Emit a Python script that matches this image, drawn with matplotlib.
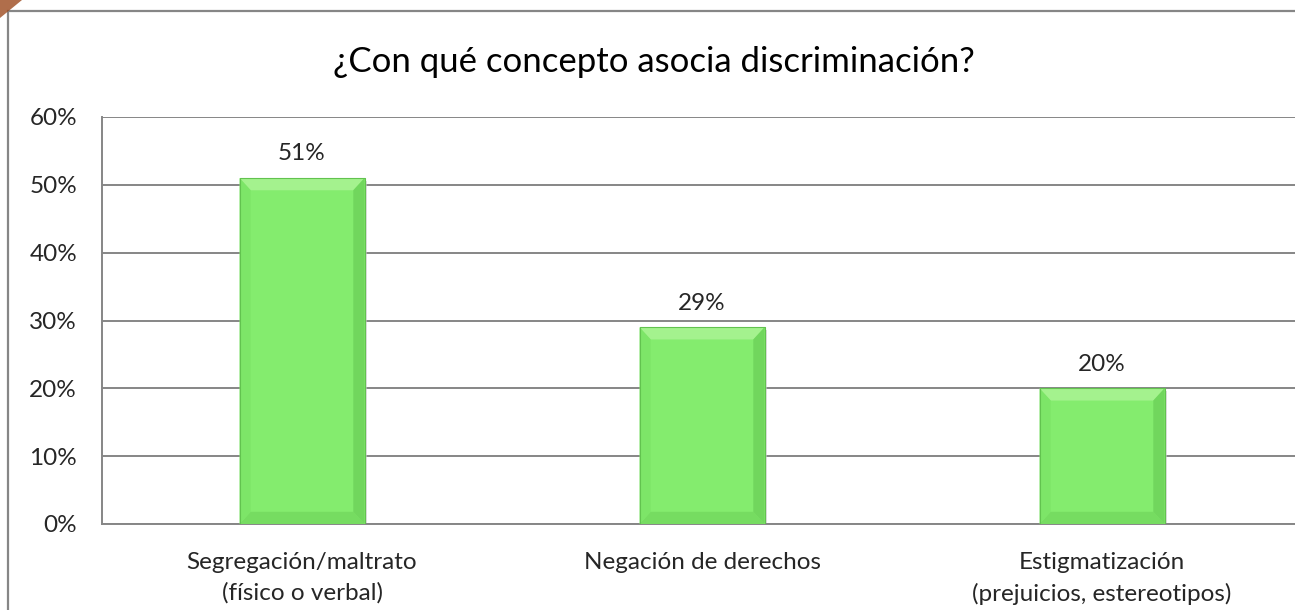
import matplotlib
matplotlib.use("Agg")
import matplotlib.pyplot as plt
from matplotlib.patches import Polygon, Rectangle
from matplotlib.ticker import PercentFormatter

# Données
categories = ["Segregación/maltrato\n(físico o verbal)",
              "Negación de derechos",
              "Estigmatización\n(prejuicios, estereotipos)"]
valeurs = [0.51, 0.29, 0.20]
etiquettes = ["51%", "29%", "20%"]
titre = "¿Con qué concepto asocia discriminación?"

VERT = "#84EC6E"
VERT_CLAIR = "#A4F28E"
VERT_FONCE = "#62C24F"
GRIS = "#868686"
TEXTE = "#262626"

plt.rcParams["font.family"] = ["Lato", "DejaVu Sans"]

W, H = 1295, 610
fig = plt.figure(figsize=(W / 100, H / 100), dpi=100)
fig.patch.set_facecolor("white")

# cadre extérieur du graphique (coupé à droite et en bas)
fig.patches.append(Rectangle((8 / W, -0.1), 1.2, 1 - 11 / H + 0.1,
                             transform=fig.transFigure, fill=False,
                             edgecolor=GRIS, linewidth=1.6))
# petit reste rouge en haut à gauche
fig.patches.append(Polygon([(0, 1), (22 / W, 1), (0, 1 - 18 / H)],
                           closed=True, transform=fig.transFigure,
                           facecolor="#9C4A1E", edgecolor="none", alpha=0.8))

ax = fig.add_axes([102 / W, 1 - 524 / H, 1200 / W, 407 / H])
x = range(len(categories))
barres = ax.bar(x, valeurs, width=0.3125, color=VERT, edgecolor="none", zorder=3)

# effet biseau façon Excel
bx, by = 0.028, 0.018
for b in barres:
    x0, w, h = b.get_x(), b.get_width(), b.get_height()
    x1 = x0 + w
    # ombre légère à droite
    ax.add_patch(Rectangle((x1, 0), 0.006, h - 0.004, facecolor="#c8c8c8",
                           edgecolor="none", alpha=0.6, zorder=2))
    ax.add_patch(Polygon([(x0, h), (x1, h), (x1 - bx, h - by), (x0 + bx, h - by)],
                         facecolor=VERT_CLAIR, edgecolor="none", zorder=4))
    ax.add_patch(Polygon([(x0, 0), (x1, 0), (x1 - bx, by), (x0 + bx, by)],
                         facecolor="#76DC61", edgecolor="none", zorder=4))
    ax.add_patch(Polygon([(x0, h), (x0 + bx, h - by), (x0 + bx, by), (x0, 0)],
                         facecolor="#7DE568", edgecolor="none", zorder=4))
    ax.add_patch(Polygon([(x1, h), (x1 - bx, h - by), (x1 - bx, by), (x1, 0)],
                         facecolor="#71D65D", edgecolor="none", zorder=4))
    ax.plot([x0, x0, x1, x1], [0, h, h, 0], color=VERT_FONCE, lw=0.8, zorder=5)

for b, lab in zip(barres, etiquettes):
    ax.text(b.get_x() + b.get_width() / 2, b.get_height() + 0.02, lab,
            ha="center", va="bottom", fontsize=17.5, color=TEXTE)

ax.set_xlim(-0.5, len(categories) - 0.5)
ax.set_ylim(0, 0.6)
ax.set_yticks([0, 0.1, 0.2, 0.3, 0.4, 0.5, 0.6])
ax.yaxis.set_major_formatter(PercentFormatter(1.0, decimals=0))
ax.set_xticks(list(x))
ax.set_xticklabels(categories, fontsize=17.5, color=TEXTE, linespacing=1.55)
ax.tick_params(axis="y", length=0, pad=18, labelsize=17.5, labelcolor=TEXTE)
ax.tick_params(axis="x", length=0, pad=20)

ax.yaxis.grid(True, color=GRIS, linewidth=1.4, zorder=0)
for s in ["top", "right"]:
    ax.spines[s].set_visible(False)
for s in ["left", "bottom"]:
    ax.spines[s].set_color(GRIS)
    ax.spines[s].set_linewidth(1.4)

fig.text(654 / W, 1 - 62 / H, titre, ha="center", va="center",
         fontsize=25, color="black")

fig.savefig("out.png", dpi=100, facecolor="white")
